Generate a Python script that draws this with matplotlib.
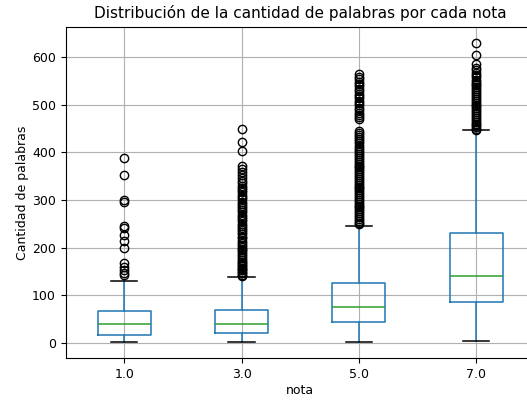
import matplotlib
matplotlib.use("Agg")
import matplotlib.pyplot as plt

# Grade categories
notas = ["1.0", "3.0", "5.0", "7.0"]

# Box statistics per grade (word counts)
whisker_low = [1, 1, 2, 4]
q1 = [17, 21, 44, 85]
median = [39, 39, 76, 141]
q3 = [66, 68, 125, 230]
whisker_high = [129, 138, 245, 446]

# Outliers per grade
fliers_1 = [387, 353, 300, 296, 245, 240, 226, 213, 200, 167, 160, 153, 147, 142]
fliers_3 = [449, 422, 402, 372, 365, 358, 352, 346, 340, 335, 330, 325, 320, 316,
            311, 306, 301, 296, 292, 287, 283, 278, 274, 269, 265, 260, 255, 250,
            246, 241, 237, 232, 228, 223, 219, 214, 210, 206, 202, 198, 194, 190,
            186, 182, 178, 174, 170, 167, 164, 161, 158, 155, 152, 149, 146, 143, 141]
fliers_5 = [563, 558, 553, 548, 543, 538, 533, 528, 523, 518, 513, 508, 503, 498,
            493, 488, 483, 478, 473, 469, 445, 440, 436, 432, 428, 424, 419, 414,
            409, 404, 400, 396, 392, 388, 384, 380, 376, 372, 368, 364, 360, 356,
            352, 348, 344, 340, 336, 332, 328, 324, 320, 316, 312, 308, 304, 300,
            296, 292, 288, 284, 280, 276, 272, 268, 264, 260, 256, 252, 249]
fliers_7 = [630, 604, 585, 577, 572, 567, 562, 557, 552, 548, 544, 540, 536, 532,
            528, 524, 520, 516, 512, 508, 504, 500, 496, 492, 488, 484, 480, 476,
            472, 468, 464, 460, 456, 452, 449, 447]
fliers = [fliers_1, fliers_3, fliers_5, fliers_7]

stats = []
for i, label in enumerate(notas):
    stats.append({
        "label": label,
        "whislo": whisker_low[i],
        "q1": q1[i],
        "med": median[i],
        "q3": q3[i],
        "whishi": whisker_high[i],
        "fliers": fliers[i],
    })

plt.rcParams.update({
    "xtick.labelsize": 9,
    "ytick.labelsize": 9,
    "axes.labelsize": 9,
    "axes.titlesize": 11,
})

fig = plt.figure(figsize=(5.27, 4.0), dpi=100)
ax = fig.add_axes([0.1243, 0.104, 0.8907, 0.829])

ax.bxp(
    stats,
    widths=0.45,
    boxprops=dict(color="C0", linewidth=1.1),
    whiskerprops=dict(color="C0", linewidth=1.1),
    medianprops=dict(color="C2", linewidth=1.1),
    capprops=dict(color="k", linewidth=1.1),
    flierprops=dict(marker="o", markersize=6, markerfacecolor="none",
                    markeredgecolor="k"),
)

ax.set_ylim(-32.5, 663)
ax.grid(True)
ax.set_axisbelow(True)
ax.set_title("Distribución de la cantidad de palabras por cada nota", pad=6.5)
ax.set_xlabel("nota", labelpad=2)
ax.set_ylabel("Cantidad de palabras", labelpad=2)

fig.savefig("out.png", dpi=100)
